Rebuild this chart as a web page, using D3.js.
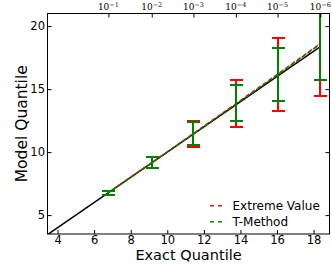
<!DOCTYPE html>
<html><head><meta charset="utf-8">
<script src="https://cdn.jsdelivr.net/npm/d3@7"></script>
<style>body{margin:0;background:#fff}svg{display:block}</style>
</head><body>
<script>
const exactQ = [6.78, 9.15, 11.43, 13.75, 16.03, 18.37];
const topTickExp = ["−1", "−2", "−3", "−4", "−5", "−6"];
const evLow  = [6.56, 8.72, 10.44, 12.03, 13.30, 14.43];
const evHigh = [6.93, 9.62, 12.45, 15.75, 19.08, 23.5];
const tmLow  = [6.56, 8.75, 10.60, 12.45, 14.06, 15.75];
const tmHigh = [6.93, 9.62, 12.35, 15.33, 18.26, 22.5];
const evMid  = [6.78, 9.16, 11.47, 13.84, 16.18, 18.62];
const tmMid  = [6.78, 9.15, 11.45, 13.81, 16.14, 18.58];
const refX = [3.45, 18.37];
const refY = [3.45, 18.37];
const xTicks = [4, 6, 8, 10, 12, 14, 16, 18];
const yTicks = [5, 10, 15, 20];
const legendLabels = ["Extreme Value", "T-Method"];

const W = 332, H = 264;
const L = 47.5, R = 329.5, T = 13.5, B = 234;
const x = d3.scaleLinear().domain([3.45, 18.87]).range([L, R]);
const y = d3.scaleLinear().domain([3.5, 21]).range([B, T]);
const red = "#ff0000", green = "#008000";

const svg = d3.select("body").append("svg").attr("width", W).attr("height", H);
svg.append("defs").append("clipPath").attr("id", "clip")
  .append("rect").attr("x", L).attr("y", T).attr("width", R - L).attr("height", B - T);
const plot = svg.append("g").attr("clip-path", "url(#clip)");

// reference line
plot.append("path").datum(refX.map((v, i) => [v, refY[i]]))
  .attr("d", d3.line().x(d => x(d[0])).y(d => y(d[1])))
  .attr("fill", "none").attr("stroke", "#000").attr("stroke-width", 1.5);

// dashed model lines
const ln = d3.line().x((d, i) => x(exactQ[i])).y(d => y(d));
plot.append("path").datum(evMid).attr("d", ln).attr("fill", "none")
  .attr("stroke", red).attr("stroke-width", 1.5).attr("stroke-dasharray", "4,3");
plot.append("path").datum(tmMid).attr("d", ln).attr("fill", "none")
  .attr("stroke", green).attr("stroke-width", 1.5).attr("stroke-dasharray", "4,3").attr("stroke-dashoffset", 2);

// error bars
function bars(lo, hi, color) {
  const g = plot.append("g").attr("stroke", color).attr("stroke-width", 2)
    .attr("fill", "none").attr("shape-rendering", "crispEdges");
  exactQ.forEach((xv, i) => {
    const px = Math.round(x(xv));
    g.append("line").attr("x1", px).attr("x2", px).attr("y1", y(lo[i])).attr("y2", y(hi[i]));
    [lo[i], hi[i]].forEach(v => {
      const py = Math.round(y(v));
      g.append("line").attr("x1", px - 6.5).attr("x2", px + 6.5).attr("y1", py).attr("y2", py);
    });
  });
}
bars(evLow, evHigh, red);
bars(tmLow, tmHigh, green);

// frame
svg.append("rect").attr("x", L).attr("y", T).attr("width", R - L).attr("height", B - T)
  .attr("fill", "none").attr("stroke", "#000").attr("stroke-width", 1);

// axes (ticks inside)
const font = "DejaVu Sans, sans-serif";
const xb = svg.append("g").attr("transform", `translate(0,${B})`)
  .call(d3.axisBottom(x).tickValues(xTicks).tickSizeInner(-4).tickSizeOuter(0).tickPadding(2));
const yl = svg.append("g").attr("transform", `translate(${L},0)`)
  .call(d3.axisLeft(y).tickValues(yTicks).tickSizeInner(-4).tickSizeOuter(0).tickPadding(2.5));
const yr = svg.append("g").attr("transform", `translate(${R},0)`)
  .call(d3.axisRight(y).tickValues(yTicks).tickSizeInner(-4).tickSizeOuter(0).tickFormat(""));
const xt = svg.append("g").attr("transform", `translate(0,${T})`)
  .call(d3.axisTop(x).tickValues(exactQ).tickSizeInner(-4).tickSizeOuter(0).tickFormat(""));
[xb, yl, yr, xt].forEach(g => {
  g.select(".domain").remove();
  g.selectAll("text").attr("font-family", font).attr("font-size", 11.5).attr("fill", "#000");
  g.selectAll("line").attr("stroke", "#000");
});

// top tick labels 10^-k
const tl = svg.append("g");
exactQ.forEach((xv, i) => {
  const t = tl.append("text").attr("x", x(xv)).attr("y", 10).attr("text-anchor", "middle")
    .attr("font-family", "DejaVu Serif, serif").attr("font-size", 9).attr("fill", "#000");
  t.append("tspan").text("10");
  t.append("tspan").attr("dy", -3.5).attr("font-size", 6.5).text(topTickExp[i]);
});

// axis titles
svg.append("text").attr("x", (L + R) / 2).attr("y", 260.3).attr("text-anchor", "middle")
  .attr("font-family", font).attr("font-size", 14.5).text("Exact Quantile");
svg.append("text").attr("transform", `translate(26.5,${(T + B) / 2}) rotate(-90)`)
  .attr("text-anchor", "middle").attr("font-family", font).attr("font-size", 15.5).text("Model Quantile");

// legend
const legColors = [red, green];
legendLabels.forEach((lab, i) => {
  const ly = 205.7 + i * 16;
  svg.append("line").attr("x1", 210).attr("x2", 222).attr("y1", ly).attr("y2", ly)
    .attr("stroke", legColors[i]).attr("stroke-width", 1.5).attr("stroke-dasharray", "4,4");
  svg.append("text").attr("x", 232.5).attr("y", ly + 4.3).attr("font-family", font)
    .attr("font-size", 12).attr("fill", "#000").text(lab);
});
</script>
</body></html>
